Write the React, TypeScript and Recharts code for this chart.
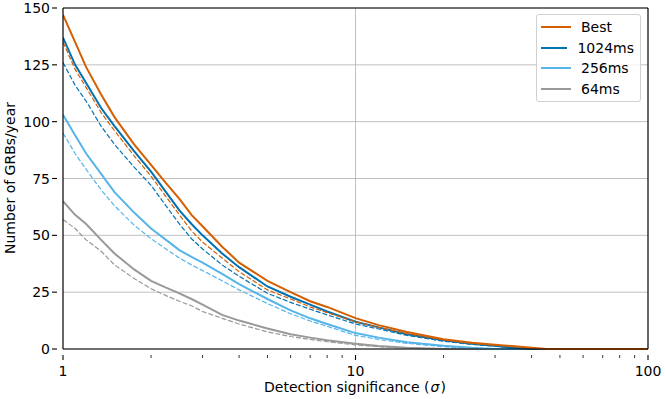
import React from "react";
import {
  LineChart, Line, XAxis, YAxis, CartesianGrid, ReferenceLine
} from "recharts";

// detection significance grid (sigma) and cumulative GRB rates per year
const SIGMA = [1, 1.1, 1.2, 1.35, 1.5, 1.75, 2, 2.25, 2.5, 2.75, 3, 3.5, 4, 5, 6, 7, 8, 10, 12, 15, 20, 25, 30, 35, 40, 45, 100];

const BEST = [147, 135, 124, 112, 102, 90, 81, 73, 66, 59, 54, 45, 38, 30, 25, 21, 18.5, 13.6, 10.5, 7.5, 4.3, 2.8, 1.9, 1.2, 0.5, 0, 0];
const BEST_DASH = [135, 123, 115, 104, 96, 85, 76, 67, 59, 52, 47, 40, 34, 26, 22, 18.5, 16, 12, 9.5, 6.8, 4, 2.5, 1.7, 1, 0.3, 0, 0];
const MS1024 = [137, 125, 117, 106, 98, 87, 78, 69, 61, 55, 50, 42, 36, 27.5, 23, 19.5, 16.5, 12, 9.5, 6.5, 3.8, 2.3, 1.4, 0.5, 0, 0, 0];
const MS1024_DASH = [126, 116, 109, 98, 90, 80, 72, 63, 55, 48.5, 44, 37, 32, 24.5, 20.5, 17.5, 15, 11, 8.8, 6, 3.4, 2, 1.2, 0.4, 0, 0, 0];
const MS256 = [103, 94, 86, 77, 69, 60, 53, 48, 43.5, 40.5, 38, 33, 28.5, 22, 17, 13.5, 11, 7, 5, 3, 1.4, 0.5, 0, 0, 0, 0, 0];
const MS256_DASH = [95, 86, 79, 70, 63, 54.5, 48.5, 44, 40, 37, 34.5, 30, 26, 20, 15.5, 12.3, 10, 6, 4.2, 2.5, 1, 0.3, 0, 0, 0, 0, 0];
const MS64 = [65, 59, 55, 48, 42, 35, 30, 27, 24.5, 22, 19.5, 15, 12.5, 9, 6.5, 5, 3.8, 2.3, 1.3, 0.5, 0, 0, 0, 0, 0, 0, 0];
const MS64_DASH = [57, 53, 48, 43, 37, 31, 26.5, 23.5, 21, 19, 16.5, 13.5, 11, 7.5, 5.5, 4.2, 3.2, 1.8, 1, 0.3, 0, 0, 0, 0, 0, 0, 0];

const X_TICKS = [1, 2, 3, 4, 5, 6, 7, 8, 9, 10, 20, 30, 40, 50, 60, 70, 80, 90, 100];
const X_MAJOR = [1, 10, 100];
const Y_TICKS = [0, 25, 50, 75, 100, 125, 150];

const SERIES = [
  { name: "Best", color: "#D55E00" },
  { name: "1024ms", color: "#0072B2" },
  { name: "256ms", color: "#56B4E9" },
  { name: "64ms", color: "#999999" },
];

const data = SIGMA.map((s, i) => ({
  s,
  best: BEST[i],
  bestD: BEST_DASH[i],
  ms1024: MS1024[i],
  ms1024D: MS1024_DASH[i],
  ms256: MS256[i],
  ms256D: MS256_DASH[i],
  ms64: MS64[i],
  ms64D: MS64_DASH[i],
}));

const FONT = "DejaVu Sans, sans-serif";
const FS = 14;

const XTick = (props: any) => {
  const { x, y, payload } = props;
  const major = X_MAJOR.includes(payload.value);
  return (
    <g>
      <line x1={x} x2={x} y1={y} y2={y + (major ? 5 : 3)} stroke="#000" strokeWidth={major ? 1.1 : 0.8} />
      {major && (
        <text x={x} y={y + 21} textAnchor="middle" fontSize={FS} fontFamily={FONT} fill="#000">
          {payload.value}
        </text>
      )}
    </g>
  );
};

const YTick = (props: any) => {
  const { x, y, payload } = props;
  return (
    <g>
      <line x1={x - 5} x2={x} y1={y} y2={y} stroke="#000" strokeWidth={1.1} />
      <text x={x - 7} y={y + 5} textAnchor="end" fontSize={FS} fontFamily={FONT} fill="#000">
        {payload.value}
      </text>
    </g>
  );
};

const LegendBox = () => (
  <div
    style={{
      position: "absolute",
      left: 536,
      top: 14,
      width: 105,
      border: "1px solid #d0d0d0",
      borderRadius: 3,
      background: "rgba(255,255,255,0.8)",
      padding: "2px 6px 2px 4px",
      fontFamily: FONT,
      fontSize: FS,
      boxSizing: "border-box",
    }}
  >
    {SERIES.map((s) => (
      <div key={s.name} style={{ display: "flex", alignItems: "center", height: 20.5 }}>
        <svg width={30} height={10} style={{ marginRight: 10 }}>
          <line x1={0} x2={30} y1={5} y2={5} stroke={s.color} strokeWidth={2} />
        </svg>
        <span>{s.name}</span>
      </div>
    ))}
  </div>
);

const frame = { stroke: "#000", strokeWidth: 1.2 };

export default function App() {
  return (
    <div style={{ position: "absolute", left: 0, top: 0, width: 665, height: 399, background: "#fff" }}>
      <LineChart width={665} height={399} data={data} margin={{ top: 8, right: 17, left: 0, bottom: 20 }}>
        <CartesianGrid vertical={false} stroke="#b0b0b0" strokeWidth={0.8} />
        <ReferenceLine x={10} stroke="#b0b0b0" strokeWidth={0.8} />
        <XAxis
          dataKey="s"
          type="number"
          scale="log"
          domain={[1, 100]}
          ticks={X_TICKS}
          interval={0}
          allowDataOverflow
          axisLine={false}
          tickLine={false}
          tickMargin={0}
          height={30}
          tick={<XTick />}
          label={{
            content: () => (
              <text x={355} y={392} textAnchor="middle" fontSize={FS} fontFamily={FONT} fill="#000">
                Detection significance (<tspan fontStyle="italic" dx={1}>σ</tspan><tspan dx={1}>)</tspan>
              </text>
            ),
          }}
        />
        <YAxis
          type="number"
          domain={[0, 150]}
          ticks={Y_TICKS}
          interval={0}
          width={63}
          axisLine={false}
          tickLine={false}
          tickMargin={0}
          tick={<YTick />}
          label={{
            content: () => (
              <text
                x={15}
                y={178}
                transform="rotate(-90 15 178)"
                textAnchor="middle"
                fontSize={FS}
                fontFamily={FONT}
                fill="#000"
              >
                Number of GRBs/year
              </text>
            ),
          }}
        />
        <Line dataKey="ms64D" stroke="#999999" strokeWidth={1.2} strokeDasharray="5 2" dot={false} isAnimationActive={false} />
        <Line dataKey="ms64" stroke="#999999" strokeWidth={2} dot={false} isAnimationActive={false} />
        <Line dataKey="ms256D" stroke="#56B4E9" strokeWidth={1.2} strokeDasharray="5 2" dot={false} isAnimationActive={false} />
        <Line dataKey="ms256" stroke="#56B4E9" strokeWidth={2} dot={false} isAnimationActive={false} />
        <Line dataKey="ms1024D" stroke="#0072B2" strokeWidth={1.2} strokeDasharray="5 2" dot={false} isAnimationActive={false} />
        <Line dataKey="ms1024" stroke="#0072B2" strokeWidth={2} dot={false} isAnimationActive={false} />
        <Line dataKey="bestD" stroke="#D55E00" strokeWidth={1.2} strokeDasharray="5 2" dot={false} isAnimationActive={false} />
        <Line dataKey="best" stroke="#D55E00" strokeWidth={2} dot={false} isAnimationActive={false} />
        <ReferenceLine y={0} {...frame} />
        <ReferenceLine y={150} {...frame} />
        <ReferenceLine x={1} {...frame} />
        <ReferenceLine x={100} {...frame} />
      </LineChart>
      <LegendBox />
    </div>
  );
}
